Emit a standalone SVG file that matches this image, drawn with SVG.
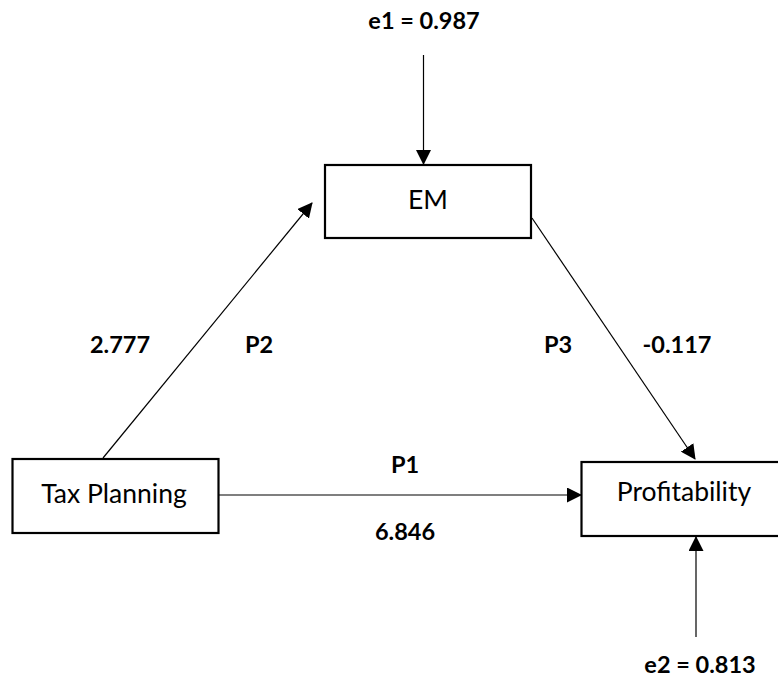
<svg xmlns="http://www.w3.org/2000/svg" width="778" height="679" viewBox="0 0 778 679">
  <style>
    .box { fill: #ffffff; stroke: #000000; stroke-width: 2.2; }
    .name { font-family: Lato, "Open Sans", "Liberation Sans", sans-serif; font-size: 26.5px; fill: #000000; text-anchor: middle; }
    .lbl { font-family: Lato, "Open Sans", "Liberation Sans", sans-serif; font-size: 23.5px; font-weight: bold; fill: #000000; text-anchor: middle; }
    .link { fill: none; stroke: #000000; stroke-width: 1.2; marker-end: url(#head); }
  </style>
  <defs>
    <marker id="head" markerWidth="15" markerHeight="15" refX="14" refY="7.5" orient="auto" markerUnits="userSpaceOnUse">
      <path d="M0,0 L15,7.5 L0,15 Z" fill="#000000"/>
    </marker>
  </defs>
  <rect width="778" height="679" fill="#ffffff"/>

  <!-- paths between constructs -->
  <g id="connectors">
    <line class="link" x1="423.5" y1="55" x2="423.5" y2="164"/>
    <line class="link" x1="103" y1="458" x2="312" y2="203"/>
    <line class="link" x1="532" y1="218" x2="695" y2="459"/>
    <line class="link" x1="219" y1="495" x2="581" y2="495"/>
    <line class="link" x1="696" y1="637" x2="696" y2="537"/>
  </g>

  <!-- path labels and error terms -->
  <g id="labels">
    <text class="lbl" x="424" y="29">e1 = 0.987</text>
    <text class="lbl" x="120" y="353">2.777</text>
    <text class="lbl" x="259" y="353">P2</text>
    <text class="lbl" x="558" y="353">P3</text>
    <text class="lbl" x="677" y="353">-0.117</text>
    <text class="lbl" x="405" y="473">P1</text>
    <text class="lbl" x="405" y="540">6.846</text>
    <text class="lbl" x="700" y="673">e2 = 0.813</text>
  </g>

  <g id="em">
    <rect class="box" x="325" y="165" width="206" height="73"/>
    <text class="name" x="428" y="209">EM</text>
  </g>

  <g id="tax-planning">
    <rect class="box" x="12.5" y="459" width="206" height="74"/>
    <text class="name" x="114" y="503">Tax Planning</text>
  </g>

  <g id="profitability">
    <rect class="box" x="581.5" y="462" width="210" height="74"/>
    <text class="name" x="684" y="501">Profitability</text>
  </g>
</svg>
